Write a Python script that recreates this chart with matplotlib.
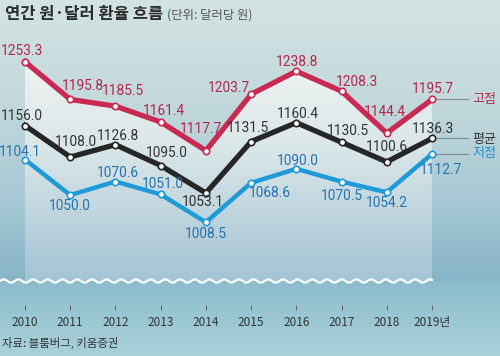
import numpy as np
import matplotlib
matplotlib.use("Agg")
import matplotlib.pyplot as plt
from matplotlib.colors import to_rgb

years = [2010, 2011, 2012, 2013, 2014, 2015, 2016, 2017, 2018, 2019]
year_labels = ["2010", "2011", "2012", "2013", "2014", "2015", "2016", "2017", "2018", "2019년"]
high = [1253.3, 1195.8, 1185.5, 1161.4, 1117.7, 1203.7, 1238.8, 1208.3, 1144.4, 1195.7]
avg = [1156.0, 1108.0, 1126.8, 1095.0, 1053.1, 1131.5, 1160.4, 1130.5, 1100.6, 1136.3]
low = [1104.1, 1050.0, 1070.6, 1051.0, 1008.5, 1068.6, 1090.0, 1070.5, 1054.2, 1112.7]
series_names = ["고점", "평균", "저점"]
title = "연간 원·달러 환율 흐름"
unit = "(단위: 달러당 원)"
source = "자료: 블룸버그, 키움증권"

# label offsets in pixels (dx, dy with dy down positive)
off_high = [(-3, -11), (13, -13), (7, -15), (3, -11), (-5, -22), (-22, -6), (1, -9), (15, -9), (-2, -21), (1, -10)]
off_avg = [(-3, -10), (6, -15), (3, -9), (6, -13), (-3, 9), (-3, -14), (2, -9), (6, -11), (0, -15), (1, -9)]
off_low = [(-5, -8), (0, 11), (2, -9), (2, -10), (0, 12), (19, 10), (1, -8), (0, 14), (0, 11), (9, 16)]

W, H = 500, 356
fig = plt.figure(figsize=(W / 100, H / 100), dpi=100)

KR = ["Noto Sans CJK KR", "DejaVu Sans"]
NUM = ["Roboto", "DejaVu Sans"]

# background gradient
bg = fig.add_axes([0, 0, 1, 1])
bg.set_axis_off()
rows = np.arange(H)
stops_y = [0, 100, 200, 281, 282, 356]
stops_c = [to_rgb(c) for c in ["#d3e3e2", "#c3d9dc", "#a6c8d4", "#86b4c8", "#8dbdcd", "#a9d2da"]]
img = np.zeros((H, 1, 3))
for k in range(3):
    img[:, 0, k] = np.interp(rows, stops_y, [c[k] for c in stops_c])
bg.imshow(img, extent=(0, W, H, 0), aspect="auto", interpolation="bilinear")
bg.set_xlim(0, W)
bg.set_ylim(H, 0)

# main axes: pixel x 0-500, y 0-305
bottom_px = 305
x_per_px = 1 / 45.22
v_per_px = 1 / 0.656
x0 = 2010 - 25 * x_per_px
x1 = 2010 + (W - 25) * x_per_px
ytop = 1253.3 + 61.7 * v_per_px
ybot = 1253.3 - (bottom_px - 61.7) * v_per_px
ax = fig.add_axes([0, (H - bottom_px) / H, 1, bottom_px / H])
ax.patch.set_alpha(0)
ax.set_xlim(x0, x1)
ax.set_ylim(ybot, ytop)
for s in ax.spines.values():
    s.set_visible(False)
ax.set_yticks([])
ax.set_xticks(years)
ax.set_xticklabels(year_labels, fontfamily=KR, fontsize=8.5, color="#333333")
ax.tick_params(axis="x", direction="out", length=3.6, width=0.8, color="#666666", pad=4.0)

wave_base = 1253.3 - (281 - 61.7) * v_per_px

# gradient panel under the high line
poly = ax.fill_between(years, high, wave_base, color="none", lw=0)
py = np.array([60, 150, 230, 281])
pc = [to_rgb(c) for c in ["#eff3f1", "#d9e6e8", "#b9d1dc", "#a4c4d4"]]
n = 200
vals = np.linspace(ytop, wave_base, n)
pix = 61.7 + (1253.3 - vals) / v_per_px
gimg = np.zeros((n, 1, 3))
for k in range(3):
    gimg[:, 0, k] = np.interp(pix, py, [c[k] for c in pc])
im = ax.imshow(gimg, extent=(2010, 2019, wave_base, ytop), aspect="auto",
               interpolation="bilinear", zorder=1)
im.set_clip_path(poly.get_paths()[0], transform=ax.transData)

# wave
wx = np.linspace(x0, 2019, 800)
wpx = (wx - x0) / x_per_px
wy = wave_base + 1.6 * v_per_px * np.sin(2 * np.pi * wpx / 14.7)
ax.plot(wx, wy, color="white", lw=1.6, zorder=2)

specs = [
    (high, "#c92a52", "#b3284a", 3.8, off_high),
    (avg, "#262626", "#333333", 3.8, off_avg),
    (low, "#1f9ad8", "#2773ae", 3.2, off_low),
]
label_y_px = [0, 1, 0]
for (vals_s, lc, tc, lw, offs), name, ly in zip(specs, series_names, label_y_px):
    ax.plot(years, vals_s, color=lc, lw=lw, solid_joinstyle="miter", zorder=4,
            marker="o", markersize=4.6, markerfacecolor="white",
            markeredgecolor=lc, markeredgewidth=1.2)
    for x, v, (dx, dy) in zip(years, vals_s, offs):
        ax.annotate(f"{v:.1f}", (x, v), xytext=(dx * 0.72, -dy * 0.72),
                    textcoords="offset points", ha="center", va="center",
                    fontfamily=NUM, fontsize=9.9, color=tc, zorder=5)
    # leader line and series name
    ax.plot([2019 + 4 * x_per_px, 2019 + 36 * x_per_px], [vals_s[-1], vals_s[-1]],
            color="#7f8c90", lw=0.8, zorder=3)
    ax.annotate(name, (2019, vals_s[-1]), xytext=(40 * 0.72, -ly * 0.72),
                textcoords="offset points", ha="left", va="center",
                fontfamily=KR, fontsize=9.4, color=tc if lc != "#1f9ad8" else "#1f8fd0", zorder=5)

fig.text(5 / W, 1 - 14.5 / H, title, fontfamily=KR, fontsize=11.9, fontweight="bold",
         color="#2b2b2b", ha="left", va="center")
fig.text(167 / W, 1 - 15 / H, unit, fontfamily=KR, fontsize=8.9,
         color="#555555", ha="left", va="center")
fig.text(2 / W, 1 - 343 / H, source, fontfamily=KR, fontsize=8.2,
         color="#333333", ha="left", va="center")

fig.savefig("out.png", dpi=100)
